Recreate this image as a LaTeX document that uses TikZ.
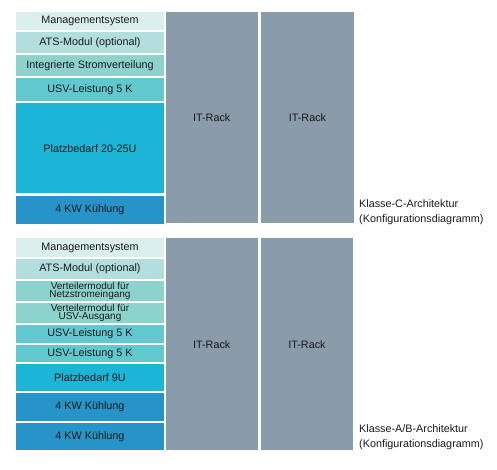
\documentclass[tikz,border=0pt]{standalone}
\usepackage{fontspec}
\setmainfont{Liberation Sans}
\usepackage{tikz}

\definecolor{mgmtcol}{HTML}{DAEEEC}
\definecolor{atscol}{HTML}{B2DFDE}
\definecolor{pducol}{HTML}{8DD3CD}
\definecolor{upscol}{HTML}{62C8CF}
\definecolor{spacecol}{HTML}{1CB5D6}
\definecolor{coolcol}{HTML}{2694C8}
\definecolor{rackcol}{HTML}{8A9BAA}
\definecolor{txtcol}{HTML}{1A1A1A}

\tikzset{
  block/.style={anchor=north west, inner sep=0pt, minimum width=147.5pt, text=txtcol,
    font=\fontsize{10.8}{12}\selectfont},
  smallblock/.style={block, align=center, font=\fontsize{10}{8.8}\selectfont},
  rack/.style={anchor=north west, inner sep=0pt, fill=rackcol, text=txtcol,
    font=\fontsize{10.8}{12}\selectfont},
  caption/.style={anchor=north west, inner sep=0pt, align=left, text=txtcol,
    font=\fontsize{10.8}{15}\selectfont}
}

\begin{document}
\begin{tikzpicture}[x=1pt, y=-1pt]
    \useasboundingbox (0,0) rectangle (497,470);

    % Klasse C
    \node[block, fill=mgmtcol, minimum height=18pt] (mgmtC) at (16, 12) {Managementsystem};
    \node[block, fill=atscol, minimum height=20.7pt] (atsC) at (16, 32) {ATS-Modul (optional)};
    \node[block, fill=pducol, minimum height=21.3pt] (pduC) at (16, 54.7) {Integrierte Stromverteilung};
    \node[block, fill=upscol, minimum height=23pt] (upsC) at (16, 78) {USV-Leistung 5 K};
    \node[block, fill=spacecol, minimum height=90pt] (spaceC) at (16, 103) {Platzbedarf 20-25U};
    \node[block, fill=coolcol, minimum height=28pt] (coolC) at (16, 196) {4 KW Kühlung};

    \node[rack, minimum width=92pt, minimum height=211pt] (rackCa) at (165.5, 12) {IT-Rack};
    \node[rack, minimum width=93.5pt, minimum height=211pt] (rackCb) at (260.5, 12) {IT-Rack};

    \node[caption] (capC) at (359, 199) {Klasse-C-Architektur\\(Konfigurationsdiagramm)};

    % Klasse A/B
    \node[block, fill=mgmtcol, minimum height=18.7pt] (mgmtAB) at (16, 238) {Managementsystem};
    \node[block, fill=atscol, minimum height=19.7pt] (atsAB) at (16, 259) {ATS-Modul (optional)};
    \node[smallblock, fill=pducol, minimum height=20pt] (mainsAB) at (16, 280.7) {Verteilermodul für\\Netzstromeingang};
    \node[smallblock, fill=pducol, minimum height=20pt] (outAB) at (16, 302.7) {Verteilermodul für\\USV-Ausgang};
    \node[block, fill=upscol, minimum height=18pt] (upsABa) at (16, 324.7) {USV-Leistung 5 K};
    \node[block, fill=upscol, minimum height=17.3pt] (upsABb) at (16, 344.7) {USV-Leistung 5 K};
    \node[block, fill=spacecol, minimum height=26.7pt] (spaceAB) at (16, 364) {Platzbedarf 9U};
    \node[block, fill=coolcol, minimum height=28pt] (coolABa) at (16, 392.7) {4 KW Kühlung};
    \node[block, fill=coolcol, minimum height=26.7pt] (coolABb) at (16, 422.7) {4 KW Kühlung};

    \node[rack, minimum width=92pt, minimum height=212pt] (rackABa) at (165.5, 238) {IT-Rack};
    \node[rack, minimum width=92.5pt, minimum height=212pt] (rackABb) at (260.5, 238) {IT-Rack};

    \node[caption] (capAB) at (359, 424) {Klasse-A/B-Architektur\\(Konfigurationsdiagramm)};
  \end{tikzpicture}
\end{document}
